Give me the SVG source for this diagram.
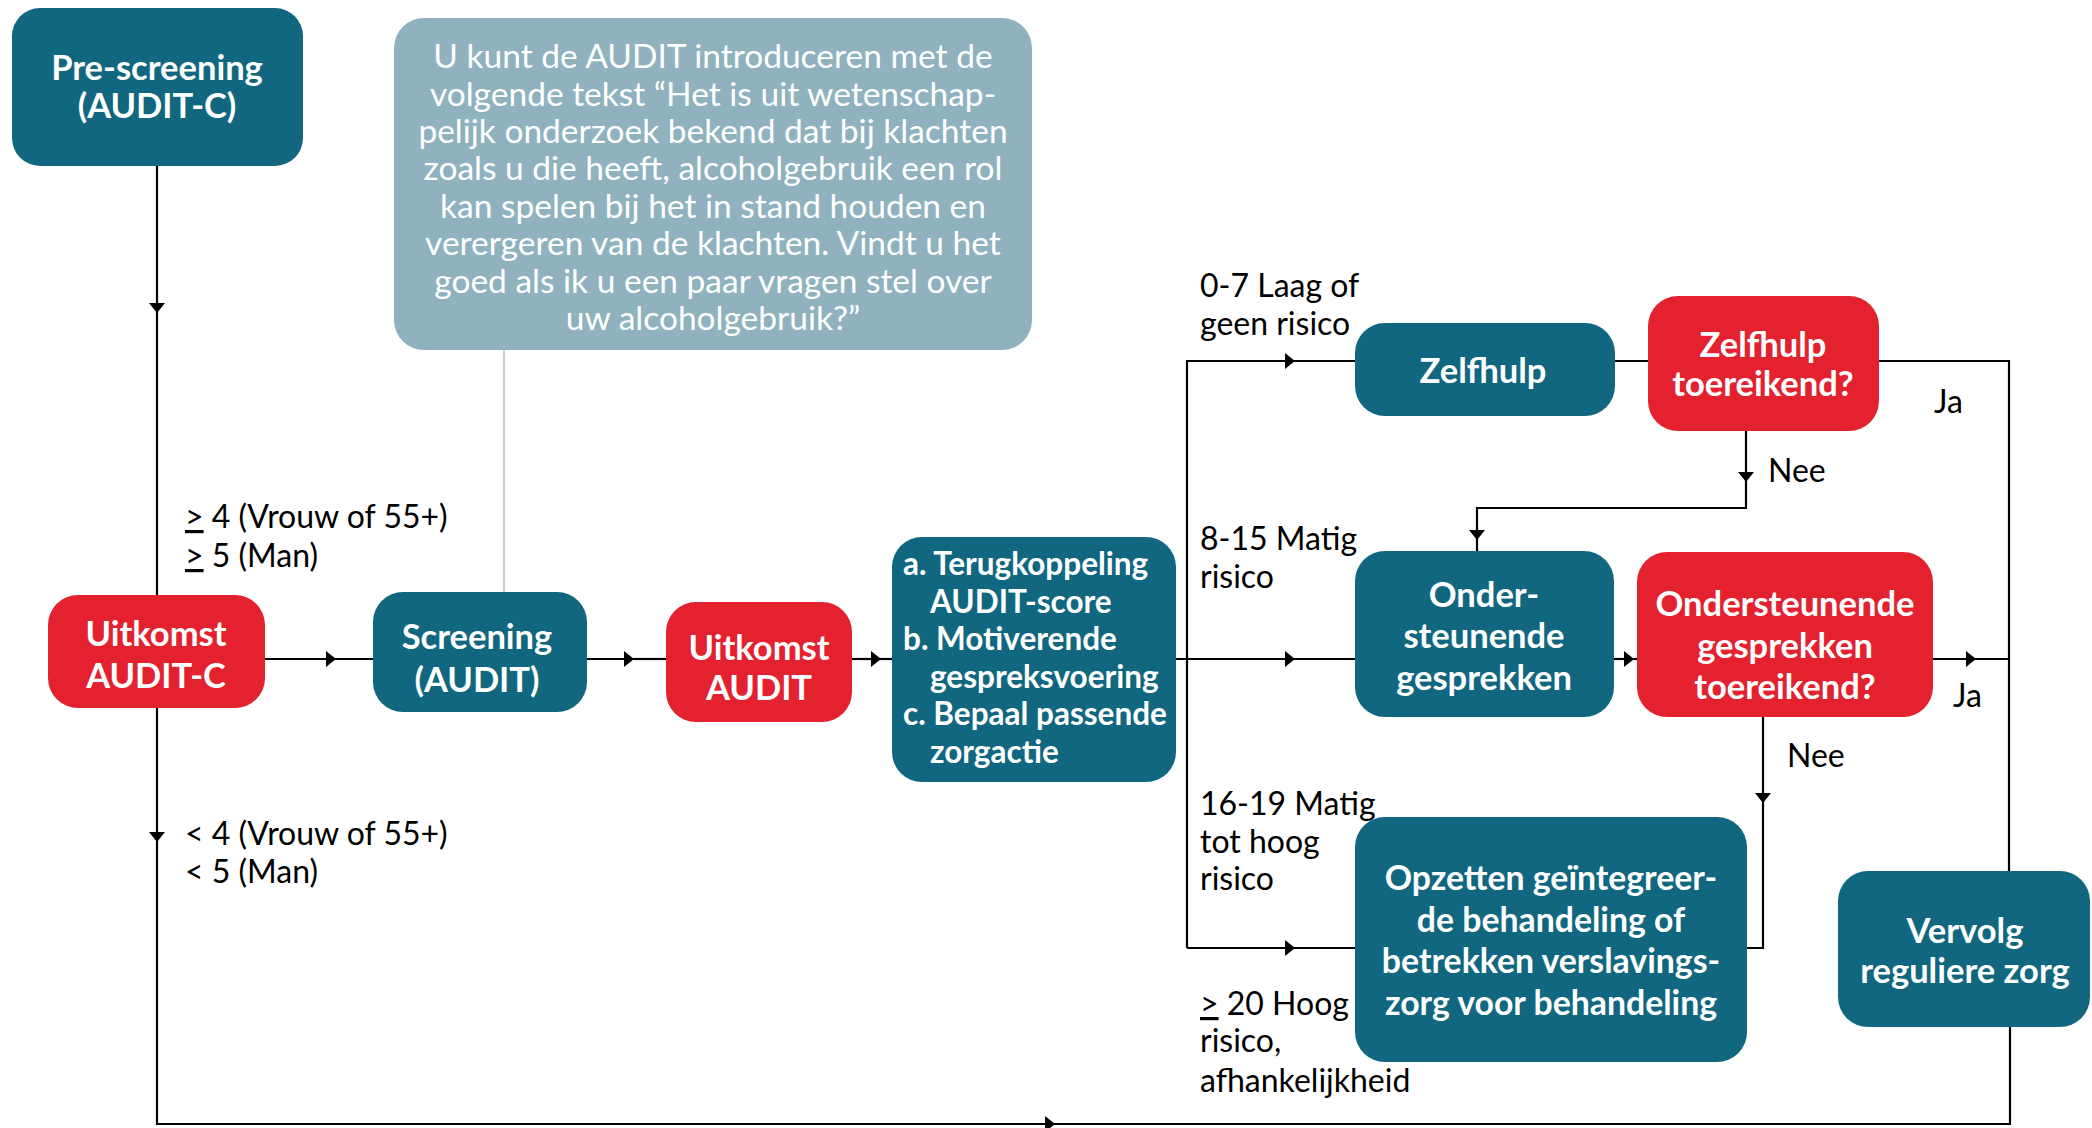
<svg xmlns="http://www.w3.org/2000/svg" width="2092" height="1128" viewBox="0 0 2092 1128">
<style>
.teal{fill:#10677f}
.red{fill:#e3212f}
.note{fill:#8fb2be}
.nt{font-family:Lato,"Liberation Sans",sans-serif;font-weight:700;font-size:34.5px;fill:#fff;text-anchor:middle}
.nt2{font-family:Lato,"Liberation Sans",sans-serif;font-weight:700;font-size:33.8px;fill:#fff;text-anchor:middle}
.lt{font-family:Lato,"Liberation Sans",sans-serif;font-weight:700;font-size:31.5px;fill:#fff}
.ct{font-family:Lato,"Liberation Sans",sans-serif;font-size:33.5px;fill:#fff;text-anchor:middle}
.lb{font-family:Lato,"Liberation Sans",sans-serif;font-size:32px;fill:#000}
.c{fill:none;stroke:#000;stroke-width:2.2}
.g{fill:none;stroke:#c6d1da;stroke-width:2}
</style>
<defs>
<marker id="a" markerUnits="userSpaceOnUse" markerWidth="12" markerHeight="18" refX="10" refY="9" orient="auto">
<path d="M0,1 L10,9 L0,17 z" fill="#000"/>
</marker>
</defs>
<rect width="2092" height="1128" fill="#fff"/>
<g id="connectors">
<path class="g" d="M504 350 V592"/>
<path class="c" d="M157 166 V313" marker-end="url(#a)"/>
<path class="c" d="M157 313 V595"/>
<path class="c" d="M157 708 V842" marker-end="url(#a)"/>
<path class="c" d="M157 842 V1124 H1055" marker-end="url(#a)"/>
<path class="c" d="M1055 1124 H2010 V1027"/>
<path class="c" d="M265 659 H336" marker-end="url(#a)"/>
<path class="c" d="M336 659 H373"/>
<path class="c" d="M587 659 H634" marker-end="url(#a)"/>
<path class="c" d="M634 659 H666"/>
<path class="c" d="M852 659 H881" marker-end="url(#a)"/>
<path class="c" d="M881 659 H892"/>
<path class="c" d="M1176 659 H1295" marker-end="url(#a)"/>
<path class="c" d="M1295 659 H1355"/>
<path class="c" d="M1187 948 V361 H1295" marker-end="url(#a)"/>
<path class="c" d="M1295 361 H1355"/>
<path class="c" d="M1187 948 H1295" marker-end="url(#a)"/>
<path class="c" d="M1295 948 H1355"/>
<path class="c" d="M1615 361 H1648"/>
<path class="c" d="M1879 361 H2009 V871"/>
<path class="c" d="M1746 431 V482" marker-end="url(#a)"/>
<path class="c" d="M1746 482 V508 H1477 V540" marker-end="url(#a)"/>
<path class="c" d="M1477 540 V551"/>
<path class="c" d="M1614 659 H1634" marker-end="url(#a)"/>
<path class="c" d="M1634 659 H1637"/>
<path class="c" d="M1933 659 H1976" marker-end="url(#a)"/>
<path class="c" d="M1976 659 H2009"/>
<path class="c" d="M1763 717 V803" marker-end="url(#a)"/>
<path class="c" d="M1763 803 V948 H1747"/>
</g>
<g id="labels">
<text class="lb" x="185" y="528"><tspan text-decoration="underline">&gt;</tspan> 4 (Vrouw of 55+)</text>
<text class="lb" x="185" y="567"><tspan text-decoration="underline">&gt;</tspan> 5 (Man)</text>
<text class="lb" x="185" y="845">&lt; 4 (Vrouw of 55+)</text>
<text class="lb" x="185" y="883">&lt; 5 (Man)</text>
<text class="lb" x="1200" y="297">0-7 Laag of</text>
<text class="lb" x="1200" y="335">geen risico</text>
<text class="lb" x="1200" y="550">8-15 Matig</text>
<text class="lb" x="1200" y="588">risico</text>
<text class="lb" x="1200" y="815">16-19 Matig</text>
<text class="lb" x="1200" y="853">tot hoog</text>
<text class="lb" x="1200" y="890">risico</text>
<text class="lb" x="1200" y="1015"><tspan text-decoration="underline">&gt;</tspan> 20 Hoog</text>
<text class="lb" x="1200" y="1052">risico,</text>
<text class="lb" x="1200" y="1092">afhankelijkheid</text>
<text class="lb" x="1934" y="413">Ja</text>
<text class="lb" x="1768" y="482">Nee</text>
<text class="lb" x="1953" y="707">Ja</text>
<text class="lb" x="1787" y="767">Nee</text>
</g>
<g id="prescreening">
<rect class="teal" x="12" y="8" width="291" height="158" rx="28"/>
<text class="nt" x="157" y="80">Pre-screening</text>
<text class="nt" x="157" y="118">(AUDIT-C)</text>
</g>
<g id="note">
<rect class="note" x="394" y="18" width="638" height="332" rx="30"/>
<text class="ct" x="713" y="68">U kunt de AUDIT introduceren met de</text>
<text class="ct" x="713" y="106">volgende tekst “Het is uit wetenschap-</text>
<text class="ct" x="713" y="143">pelijk onderzoek bekend dat bij klachten</text>
<text class="ct" x="713" y="180">zoals u die heeft, alcoholgebruik een rol</text>
<text class="ct" x="713" y="218">kan spelen bij het in stand houden en</text>
<text class="ct" x="713" y="255">verergeren van de klachten. Vindt u het</text>
<text class="ct" x="713" y="293">goed als ik u een paar vragen stel over</text>
<text class="ct" x="713" y="330">uw alcoholgebruik?”</text>
</g>
<g id="uitkomst-auditc">
<rect class="red" x="48" y="595" width="217" height="113" rx="30"/>
<text class="nt" x="156" y="646">Uitkomst</text>
<text class="nt" x="156" y="688">AUDIT-C</text>
</g>
<g id="screening">
<rect class="teal" x="373" y="592" width="214" height="120" rx="30"/>
<text class="nt" x="477" y="649">Screening</text>
<text class="nt" x="477" y="692">(AUDIT)</text>
</g>
<g id="uitkomst-audit">
<rect class="red" x="666" y="602" width="186" height="120" rx="30"/>
<text class="nt" x="759" y="660">Uitkomst</text>
<text class="nt" x="759" y="700">AUDIT</text>
</g>
<g id="acties">
<rect class="teal" x="892" y="537" width="284" height="245" rx="30"/>
<text class="lt" x="903" y="575">a. Terugkoppeling</text>
<text class="lt" x="930" y="613">AUDIT-score</text>
<text class="lt" x="903" y="650">b. Motiverende</text>
<text class="lt" x="930" y="688">gespreksvoering</text>
<text class="lt" x="903" y="725">c. Bepaal passende</text>
<text class="lt" x="930" y="763">zorgactie</text>
</g>
<g id="zelfhulp">
<rect class="teal" x="1355" y="323" width="260" height="93" rx="30"/>
<text class="nt" x="1483" y="383">Zelfhulp</text>
</g>
<g id="zelfhulp-toereikend">
<rect class="red" x="1648" y="296" width="231" height="135" rx="30"/>
<text class="nt" x="1763" y="357">Zelfhulp</text>
<text class="nt" x="1763" y="396">toereikend?</text>
</g>
<g id="ondersteunende">
<rect class="teal" x="1355" y="551" width="259" height="166" rx="30"/>
<text class="nt" x="1484" y="607">Onder-</text>
<text class="nt" x="1484" y="648">steunende</text>
<text class="nt" x="1484" y="690">gesprekken</text>
</g>
<g id="ondersteunende-toereikend">
<rect class="red" x="1637" y="552" width="296" height="165" rx="30"/>
<text class="nt" x="1785" y="616">Ondersteunende</text>
<text class="nt" x="1785" y="658">gesprekken</text>
<text class="nt" x="1785" y="699">toereikend?</text>
</g>
<g id="opzetten">
<rect class="teal" x="1355" y="817" width="392" height="245" rx="30"/>
<text class="nt2" x="1551" y="890">Opzetten geïntegreer-</text>
<text class="nt2" x="1551" y="932">de behandeling of</text>
<text class="nt2" x="1551" y="973">betrekken verslavings-</text>
<text class="nt2" x="1551" y="1015">zorg voor behandeling</text>
</g>
<g id="vervolg">
<rect class="teal" x="1838" y="871" width="252" height="156" rx="30"/>
<text class="nt" x="1965" y="943">Vervolg</text>
<text class="nt" x="1965" y="983">reguliere zorg</text>
</g>
</svg>
